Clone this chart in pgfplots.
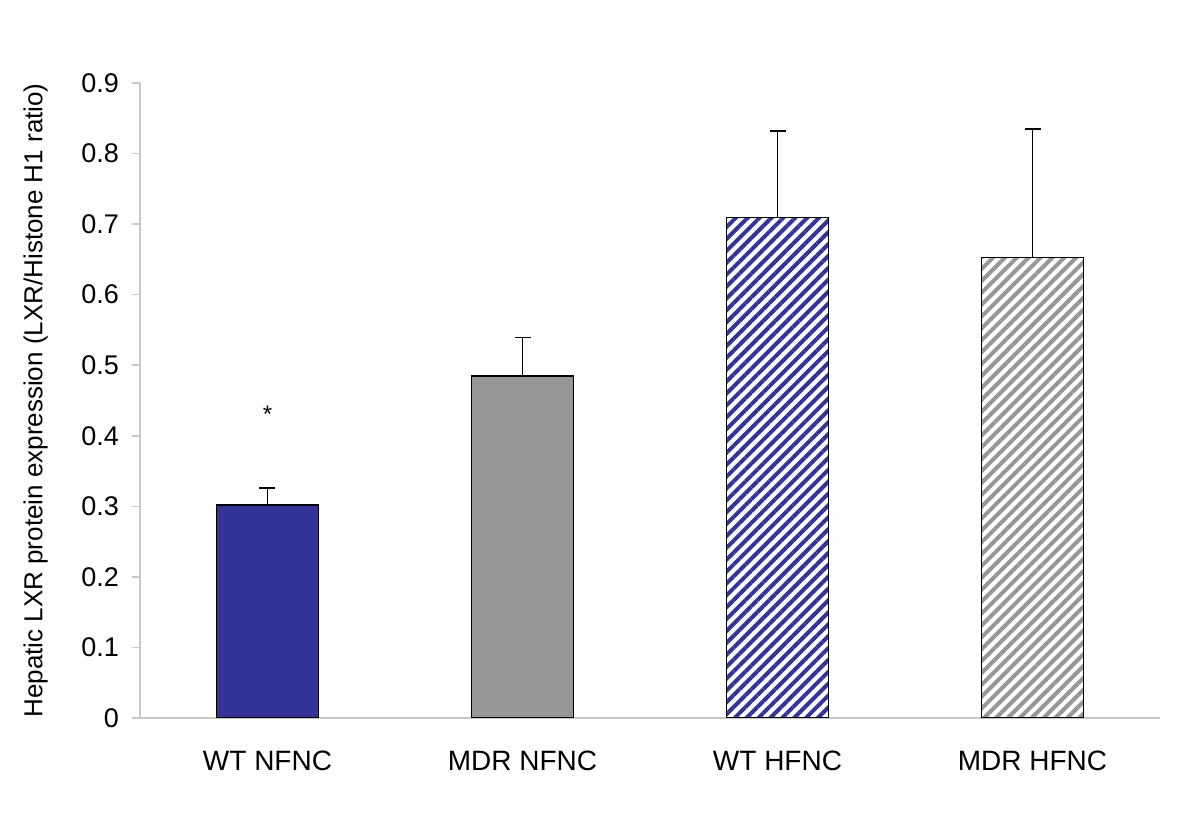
\documentclass[border=0pt]{standalone}
\usepackage{pgfplots}
\pgfplotsset{compat=1.18}
\usepackage{fontspec}
\setmainfont{Liberation Sans}
\usetikzlibrary{patterns.meta}
\definecolor{cblue}{RGB}{51,51,153}
\definecolor{cgray}{RGB}{150,150,150}
\definecolor{axgray}{RGB}{200,200,200}
\begin{document}
\begin{tikzpicture}
\begin{axis}[
  name=ax,
  scale only axis,
  width=510pt, height=317.5pt,
  xmin=-0.5, xmax=3.5,
  ymin=0, ymax=0.9,
  ytick={0,0.1,...,0.9},
  yticklabels={0,0.1,0.2,0.3,0.4,0.5,0.6,0.7,0.8,0.9},
  xtick={0,1,2,3},
  xticklabels={WT NFNC,MDR NFNC,WT HFNC,MDR HFNC},
  axis x line*=bottom, axis y line*=left,
  axis line style={axgray, line width=0.8pt, -},
  major tick length=4pt,
  x tick style={draw=none},
  y tick style={axgray, line width=0.8pt},
  tick align=outside,
  yticklabel style={font=\fontsize{13.5}{15}\selectfont, xshift=-3pt},
  xticklabel style={font=\fontsize{14}{16}\selectfont, yshift=-9pt},
  /pgf/number format/assume math mode=true,
  ylabel={Hepatic LXR protein expression (LXR/Histone H1 ratio)},
  ylabel style={font=\fontsize{13}{15}\selectfont, yshift=10pt},
  ybar, bar width=0.4, bar shift=0pt,
  error bars/y dir=plus, error bars/y explicit,
  error bars/error bar style={black, line width=0.75pt},
  error bars/error mark options={rotate=90, mark size=4pt, line width=0.75pt, black},
]
\addplot[fill=cblue, draw=black, line width=0.75pt] coordinates {(0,0.302) +- (0,0.024)};
\addplot[fill=cgray, draw=black, line width=0.75pt] coordinates {(1,0.485) +- (0,0.054)};
\addplot[draw=black, line width=0.75pt, pattern={Lines[angle=45, distance=4.2pt, line width=2pt]}, pattern color=cblue] coordinates {(2,0.709) +- (0,0.123)};
\addplot[draw=black, line width=0.75pt, pattern={Lines[angle=45, distance=4.2pt, line width=2pt]}, pattern color=cgray] coordinates {(3,0.653) +- (0,0.182)};
\node[font=\fontsize{12}{14}\selectfont] at (axis cs:0,0.43) {*};
\end{axis}
\path[use as bounding box] ([shift={(-70pt,-52.5pt)}]ax.south west) rectangle ([shift={(20pt,41.5pt)}]ax.north east);
\end{tikzpicture}
\end{document}
